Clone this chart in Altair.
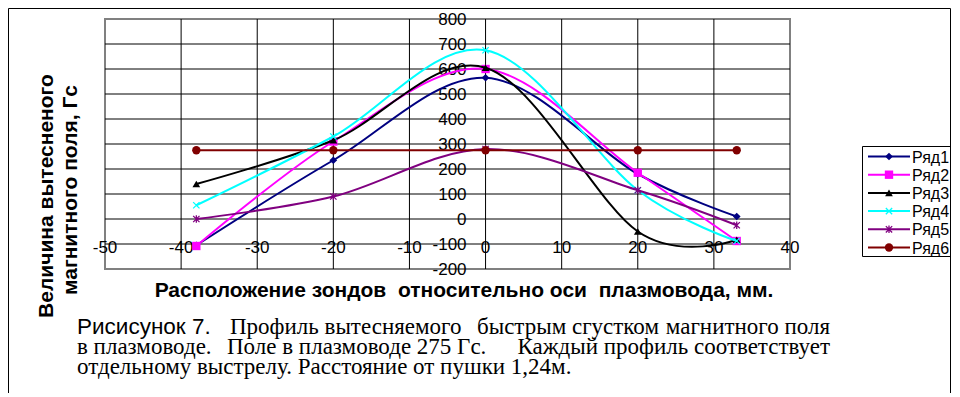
import altair as alt
import pandas as pd

# ---------------- data ----------------
x_mm = [-38, -20, 0, 20, 33]
series_names = ["Ряд1", "Ряд2", "Ряд3", "Ряд4", "Ряд5", "Ряд6"]
row1 = [-105, 235, 565, 180, 10]
row2 = [-108, 310, 600, 185, -88]
row3 = [140, 315, 605, -50, -83]
row4 = [55, 330, 675, 115, -88]
row5 = [0, 90, 280, 115, -25]
row6 = [275, 275, 275, 275, 275]
all_rows = [row1, row2, row3, row4, row5, row6]

x_ticks = [-50, -40, -30, -20, -10, 0, 10, 20, 30, 40]
y_ticks = [-200, -100, 0, 100, 200, 300, 400, 500, 600, 700, 800]

x_title = "Расположение зондов  относительно оси  плазмовода, мм."
y_title = ["Величина вытесненого", "магнитного поля, Гс"]
caption_fig = "Рисисунок 7."
caption_l1 = ["Профиль вытесняемого", "быстрым сгустком", "магнитного поля"]
caption_l2 = ["в плазмоводе.", "Поле в плазмоводе 275 Гс.", "Каждый профиль соответствует"]
caption_l3 = "отдельному выстрелу. Расстояние от пушки 1,24м."

# ---------------- styles ----------------
colors = ["#000080", "#FF00FF", "#000000", "#00FFFF", "#800080", "#800000"]
X_PATH = "M-1,-1L1,1M-1,1L1,-1"
STAR_PATH = "M-1,-1L1,1M-1,1L1,-1M0,-1.2L0,1.2"
shapes = ["diamond", "square", "triangle-up", X_PATH, STAR_PATH, "circle"]
filled = [True, True, True, False, False, True]
sizes = [60, 70, 60, 40, 40, 70]

SANS = "Liberation Sans"
SERIF = "Liberation Serif"

xs = alt.Scale(domain=[-50, 40], nice=False, zero=False)
ys = alt.Scale(domain=[-200, 800], nice=False, zero=False)

rows = []
for name, vals in zip(series_names, all_rows):
    for x, v in zip(x_mm, vals):
        rows.append({"series": name, "x": x, "y": v})
df = pd.DataFrame(rows)

layers = []

# grid lines (inner ones; outer edge is the grey plot border)
inner_x = x_ticks[1:-1]
inner_y = y_ticks[1:-1]
xg = pd.DataFrame({"v": inner_x, "lo": [y_ticks[0]] * len(inner_x), "hi": [y_ticks[-1]] * len(inner_x)})
yg = pd.DataFrame({"v": inner_y, "lo": [x_ticks[0]] * len(inner_y), "hi": [x_ticks[-1]] * len(inner_y)})
layers.append(alt.Chart(xg).mark_rule(color="black", strokeWidth=1).encode(
    x=alt.X("v:Q", scale=xs, axis=None),
    y=alt.Y("lo:Q", scale=ys, axis=None), y2="hi:Q"))
layers.append(alt.Chart(yg).mark_rule(color="black", strokeWidth=1).encode(
    y=alt.Y("v:Q", scale=ys, axis=None),
    x=alt.X("lo:Q", scale=xs, axis=None), x2="hi:Q"))

# tick labels
ylab_df = pd.DataFrame({"v": y_ticks, "z": [0] * len(y_ticks), "t": [str(v) for v in y_ticks]})
xlab_df = pd.DataFrame({"v": x_ticks, "z": [-100] * len(x_ticks), "t": [str(v) for v in x_ticks]})
layers.append(alt.Chart(ylab_df).mark_text(
    align="right", baseline="middle", dx=-19, dy=1, font=SANS, fontSize=17, color="black"
).encode(
    x=alt.X("z:Q", scale=xs, axis=None),
    y=alt.Y("v:Q", scale=ys, axis=None),
    text="t:N",
))
layers.append(alt.Chart(xlab_df).mark_text(
    align="center", baseline="middle", dy=4, font=SANS, fontSize=17, color="black"
).encode(
    x=alt.X("v:Q", scale=xs, axis=None),
    y=alt.Y("z:Q", scale=ys, axis=None),
    text="t:N",
))

# series
for i, name in enumerate(series_names):
    sdf = df[df.series == name]
    ln = alt.Chart(sdf).mark_line(interpolate="cardinal", color=colors[i], strokeWidth=2).encode(
        x=alt.X("x:Q", scale=xs, axis=None),
        y=alt.Y("y:Q", scale=ys, axis=None),
    )
    pt = alt.Chart(sdf).mark_point(
        shape=shapes[i], filled=filled[i], color=colors[i], size=sizes[i], opacity=1,
        strokeWidth=1.3,
    ).encode(
        x=alt.X("x:Q", scale=xs, axis=None),
        y=alt.Y("y:Q", scale=ys, axis=None),
    )
    layers += [ln, pt]

# legend (manual)
one = pd.DataFrame({"a": [0]})
layers.append(alt.Chart(one).mark_rect(fill="white", stroke="black", strokeWidth=1).encode(
    x=alt.value(757.5), x2=alt.value(845.5), y=alt.value(127.5), y2=alt.value(237.5)))
for i, name in enumerate(series_names):
    yy = 137.5 + i * 18.2
    layers.append(alt.Chart(one).mark_rule(color=colors[i], strokeWidth=2).encode(
        x=alt.value(763), x2=alt.value(805), y=alt.value(yy)))
    layers.append(alt.Chart(one).mark_point(
        shape=shapes[i], filled=filled[i], color=colors[i], size=sizes[i], opacity=1,
        strokeWidth=1.3).encode(x=alt.value(784), y=alt.value(yy)))
    layers.append(alt.Chart(one).mark_text(
        text=name, align="left", baseline="middle", font=SANS, fontSize=16, color="black"
    ).encode(x=alt.value(807), y=alt.value(yy + 1)))

# titles
def txt(t, x, y, **kw):
    return alt.Chart(one).mark_text(text=t, baseline="middle", color="black", **kw).encode(
        x=alt.value(x), y=alt.value(y))

layers.append(txt(y_title[0], -58, 177, angle=270, align="center", font=SANS,
                  fontSize=21, fontWeight="bold"))
layers.append(txt(y_title[1], -34, 171, angle=270, align="center", font=SANS,
                  fontSize=21, fontWeight="bold"))
layers.append(txt(x_title.replace("  ", "\u00a0 "), 359, 272, align="center", font=SANS,
                  fontSize=21, fontWeight="bold"))

# caption (justified lines approximated by chunks)
CF = 23
L1, L2, L3 = 308, 328, 348
layers.append(txt(caption_fig, -28, L1, align="left", font=SANS, fontSize=22.5))
layers.append(txt(caption_l1[0], 125, L1, align="left", font=SERIF, fontSize=CF))
layers.append(txt(caption_l1[1], 372, L1, align="left", font=SERIF, fontSize=CF))
layers.append(txt(caption_l1[2], 725, L1, align="right", font=SERIF, fontSize=CF))
layers.append(txt(caption_l2[0], -28, L2, align="left", font=SERIF, fontSize=CF))
layers.append(txt(caption_l2[1], 122, L2, align="left", font=SERIF, fontSize=CF))
layers.append(txt(caption_l2[2], 725, L2, align="right", font=SERIF, fontSize=CF))
layers.append(txt(caption_l3, -28, L3, align="left", font=SERIF, fontSize=CF))

# outer frame
layers.append(alt.Chart(one).mark_rect(fill="transparent", stroke="black", strokeWidth=1).encode(
    x=alt.value(-96.5), x2=alt.value(845.5), y=alt.value(-10.5), y2=alt.value(400)))

chart = alt.layer(*layers).properties(
    width=685, height=250,
    autosize=alt.AutoSizeParams(type="none"),
    padding={"left": 97, "top": 11, "right": 162, "bottom": 124},
).configure_view(
    stroke="#808080", strokeWidth=2
)

chart.save("out.html", embed_options={"renderer": "svg", "actions": False})
